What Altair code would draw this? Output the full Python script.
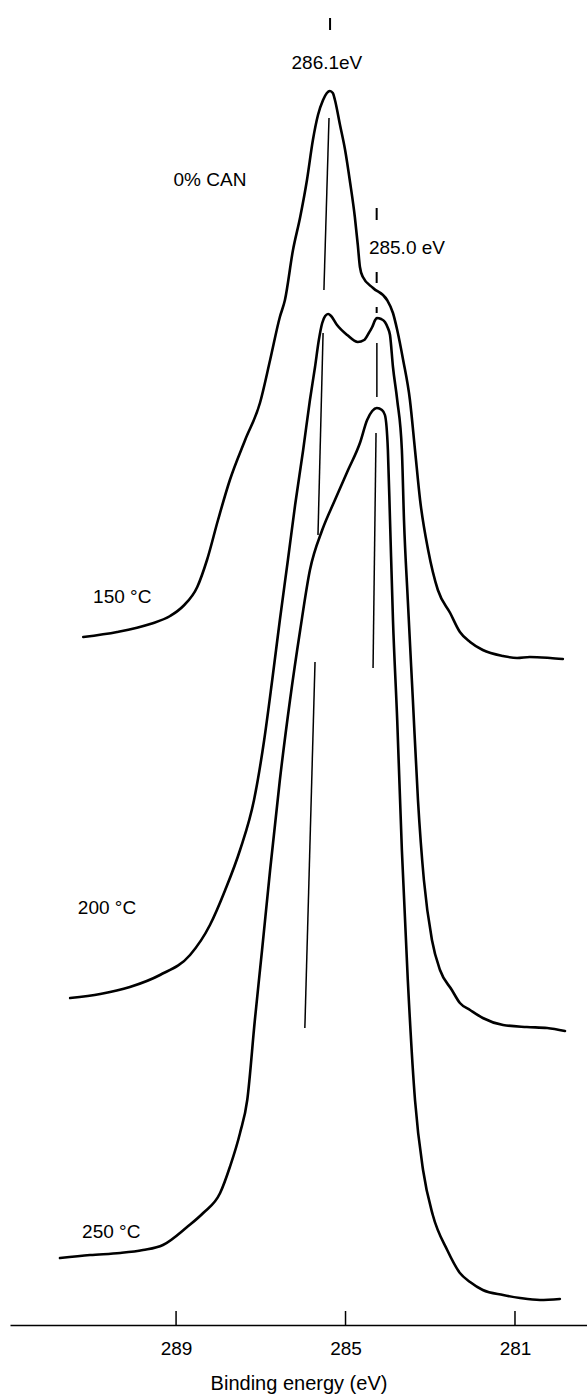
import altair as alt
import pandas as pd

# C 1s spectra, stacked with a vertical offset (intensity in arbitrary units)
e_150 = [291.19, 290.39, 289.61, 289.14, 288.83, 288.50, 288.27, 288.01, 287.73, 287.37,
         287.02, 286.78, 286.55, 286.43, 286.24, 286.07, 285.91, 285.77, 285.65, 285.53,
         285.44, 285.37, 285.30, 285.25, 285.13, 285.01, 284.89, 284.78, 284.71, 284.66,
         284.59, 284.35, 284.02, 283.88, 283.78, 283.64, 283.48, 283.36, 283.24, 283.05,
         282.82, 282.53, 282.30, 282.06, 281.76, 281.28, 280.95, 280.65, 280.17, 279.87]
i_150 = [688, 693, 701, 709, 719, 738, 765, 805, 845, 885,
         922, 965, 1008, 1025, 1075, 1108, 1145, 1185, 1210, 1225,
         1232, 1234, 1232, 1225, 1200, 1175, 1142, 1108, 1080, 1058,
         1048, 1037, 1025, 1012, 995, 965, 925, 875, 825, 775,
         735, 712, 693, 683, 675, 669, 667, 668, 667, 666]

e_200 = [291.50, 290.79, 290.09, 289.38, 288.67, 288.20, 287.84, 287.49, 287.16, 286.92,
         286.73, 286.55, 286.36, 286.19, 286.00, 285.84, 285.72, 285.63, 285.55, 285.48,
         285.41, 285.34, 285.20, 284.96, 284.71, 284.56, 284.45, 284.37, 284.30, 284.26,
         284.16, 284.07, 284.00, 283.95, 283.88, 283.78, 283.67, 283.62, 283.53, 283.41,
         283.29, 283.15, 282.96, 282.77, 282.49, 282.30, 282.06, 281.76, 281.28, 280.72,
         280.24, 279.82]
i_200 = [327, 331, 338, 350, 370, 400, 435, 475, 525, 585,
         645, 705, 765, 820, 875, 925, 958, 985, 1002, 1009,
         1011, 1009, 1000, 990, 983, 985, 992, 998, 1005, 1007,
         1006, 1003, 997, 990, 958, 925, 875, 805, 725, 625,
         525, 445, 385, 355, 335, 322, 315, 307, 300, 298,
         297, 294]

e_250 = [291.74, 291.03, 290.32, 289.78, 289.31, 288.74, 288.36, 287.96, 287.73, 287.49,
         287.32, 287.14, 286.97, 286.78, 286.55, 286.31, 286.07, 285.84, 285.55, 285.25,
         284.94, 284.66, 284.49, 284.37, 284.26, 284.14, 284.07, 284.00, 283.95, 283.88,
         283.78, 283.67, 283.53, 283.36, 283.17, 282.94, 282.60, 282.30, 282.06, 281.76,
         281.28, 280.88, 280.41, 279.94]
i_250 = [67, 70, 72, 75, 80, 98, 112, 132, 158, 192,
         225, 305, 375, 455, 545, 625, 695, 755, 795, 825,
         855, 882, 905, 914, 917, 915, 910, 875, 805, 705,
         605, 475, 345, 225, 155, 110, 75, 52, 43, 35,
         30, 27, 25, 26]

# thin guide lines through the component positions
guide_e1 = [285.39, 285.53, 285.72, 284.26, 284.28]
guide_e2 = [285.51, 285.65, 285.96, 284.26, 284.35]
guide_i1 = [1207, 992, 663, 982, 892]
guide_i2 = [1035, 790, 297, 928, 657]

# component peak energies (referenced) and the charging shift of the raw scale
peak_ev = [286.1, 285.0, 285.0, 285.0]
peak_i1 = [1307, 1117, 1053, 1018]
peak_i2 = [1295, 1105, 1042, 1012]
charge_shift = 0.735

# annotations
note_text = ["286.1eV", "0% CAN", "285.0 eV", "150 °C", "200 °C", "250 °C"]
note_e = [285.44, 288.20, 283.55, 290.27, 290.63, 290.53]
note_i = [1262, 1145, 1077, 728, 417, 93]

tick_values = [289, 285, 281]

FONT = "Liberation Sans"

rows = []
for name, es, ins in [("150", e_150, i_150), ("200", e_200, i_200), ("250", e_250, i_250)]:
    for k, (e, v) in enumerate(zip(es, ins)):
        rows.append({"spectrum": name, "energy": e, "intensity": v, "k": k})
spectra = pd.DataFrame(rows)

guides = pd.DataFrame({"e1": guide_e1, "e2": guide_e2, "i1": guide_i1, "i2": guide_i2})
markers = pd.DataFrame({"ev": peak_ev, "i1": peak_i1, "i2": peak_i2})
notes = pd.DataFrame({"text": note_text, "e": note_e, "i": note_i})
ticks = pd.DataFrame({"e": tick_values, "i1": [0] * 3, "i2": [14] * 3})

x_scale = alt.Scale(domain=[279.30, 292.92], reverse=True, nice=False, zero=False)
y_scale = alt.Scale(domain=[0, 1325], nice=False, zero=False)

x_axis = alt.Axis(
    values=tick_values, ticks=False, tickSize=0, grid=False,
    domainColor="black", domainWidth=1.5,
    labelFont=FONT, labelFontSize=19, labelColor="black", labelPadding=14,
    title="Binding energy (eV)", titleFont=FONT, titleFontSize=20,
    titleFontWeight="normal", titleColor="black", titlePadding=15,
)

lines = alt.Chart(spectra).mark_line(
    color="black", strokeWidth=2.6, interpolate="monotone", strokeJoin="round", strokeCap="round"
).encode(
    x=alt.X("energy:Q", scale=x_scale, axis=x_axis),
    y=alt.Y("intensity:Q", scale=y_scale, axis=None),
    detail="spectrum:N",
    order="k:Q",
)

guide_lines = alt.Chart(guides).mark_rule(color="black", strokeWidth=1.5).encode(
    x=alt.X("e1:Q", scale=x_scale), x2="e2:Q",
    y=alt.Y("i1:Q", scale=y_scale), y2="i2:Q",
)

marker_lines = alt.Chart(markers).transform_calculate(
    raw_ev=f"datum.ev - {charge_shift}"
).mark_rule(color="black", strokeWidth=2).encode(
    x=alt.X("raw_ev:Q", scale=x_scale),
    y=alt.Y("i1:Q", scale=y_scale), y2="i2:Q",
)

tick_lines = alt.Chart(ticks).mark_rule(color="black", strokeWidth=1.5).encode(
    x=alt.X("e:Q", scale=x_scale),
    y=alt.Y("i1:Q", scale=y_scale), y2="i2:Q",
)

labels = alt.Chart(notes).mark_text(
    font=FONT, fontSize=19, color="black", align="center", baseline="middle"
).encode(
    x=alt.X("e:Q", scale=x_scale),
    y=alt.Y("i:Q", scale=y_scale),
    text="text:N",
)

chart = alt.layer(lines, guide_lines, marker_lines, tick_lines, labels).properties(
    width=577,
    height=1325,
    padding={"left": 10, "top": 0, "right": 0, "bottom": 70},
    autosize=alt.AutoSizeParams(type="none"),
    background="white",
).configure_view(stroke=None)

chart.save("out.html", embed_options={"renderer": "svg", "actions": False})
